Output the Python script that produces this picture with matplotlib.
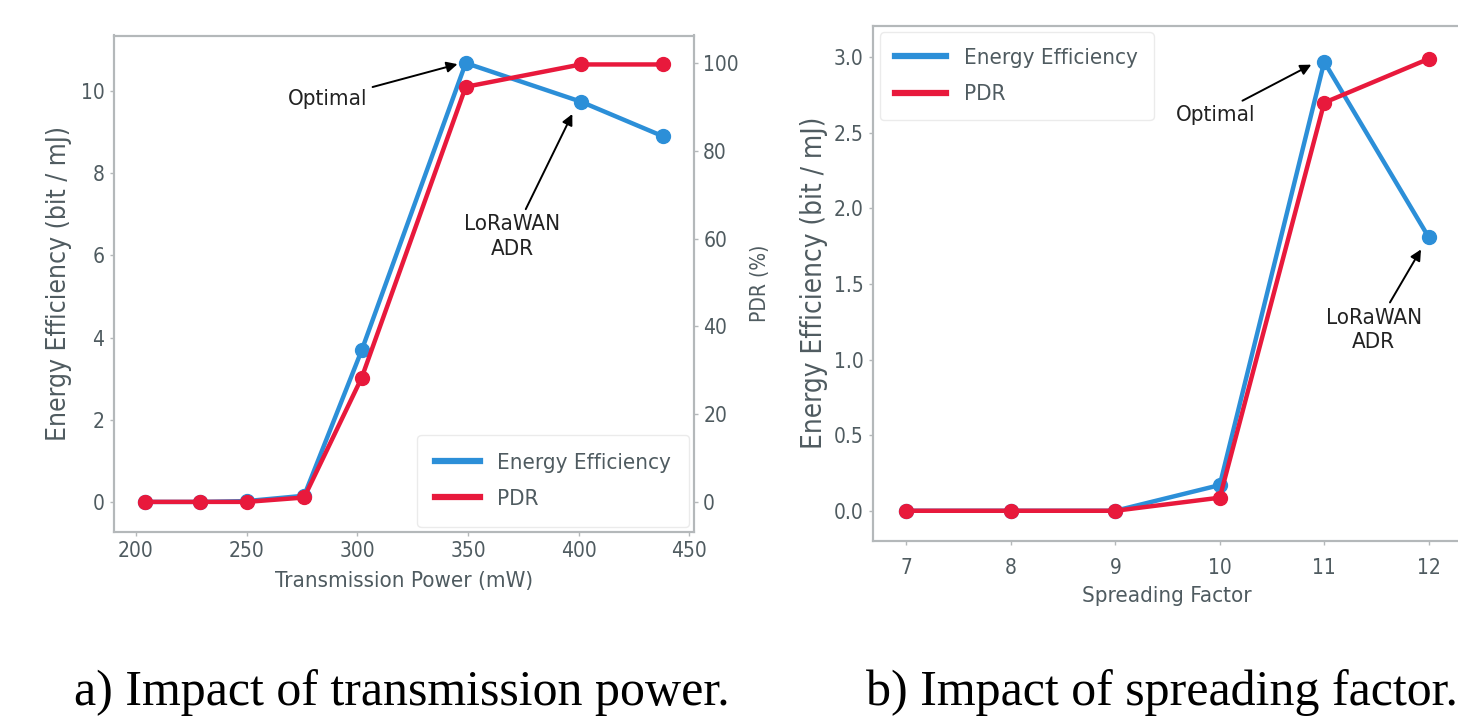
import matplotlib
matplotlib.use("Agg")
import matplotlib.pyplot as plt

# ---- data ----
tx_power = [204, 229, 250, 276, 302, 349, 401, 438]
tx_ee = [0.0, 0.0, 0.02, 0.15, 3.69, 10.68, 9.74, 8.9]
tx_pdr = [0.0, 0.0, 0.0, 1.0, 28.3, 94.6, 99.7, 99.7]

sf = [7, 8, 9, 10, 11, 12]
sf_ee = [0.0, 0.0, 0.0, 0.17, 2.97, 1.81]
sf_pdr = [0.0, 0.0, 0.0, 2.9, 90.3, 100.0]

left_yticks = [0, 2, 4, 6, 8, 10]
pdr_yticks = [0, 20, 40, 60, 80, 100]
tx_xticks = [200, 250, 300, 350, 400, 450]
sf_yticks = [0.0, 0.5, 1.0, 1.5, 2.0, 2.5, 3.0]

series_names = ["Energy Efficiency", "PDR"]
captions = ["a) Impact of transmission power.", "b) Impact of spreading factor."]

BLUE = "#2c8fd8"
RED = "#e8193c"
TXT = "#4f5b60"
SPINE = "#b4b8ba"

plt.rcParams["font.family"] = ["DejaVu Sans"]
plt.rcParams["font.stretch"] = "condensed"

W, H = 1458, 726
fig = plt.figure(figsize=(W / 100, H / 100), dpi=100)


def box(l, t, r, b):
    return [l / W, 1 - b / H, (r - l) / W, (b - t) / H]


def style(ax):
    for s in ax.spines.values():
        s.set_color(SPINE)
        s.set_linewidth(1.5)
    ax.tick_params(colors=TXT, labelsize=15, length=3, width=1, pad=4)
    ax.tick_params(axis="both", color=SPINE)


lw = 3.2
ms = 10

arrow = dict(arrowstyle="-|>", color="black", lw=1.4, mutation_scale=16,
             shrinkA=2, shrinkB=2)

# ---- panel a ----
ax1 = fig.add_axes(box(114, 35.5, 693.5, 531.5))
ax1.plot(tx_power, tx_ee, "-o", color=BLUE, lw=lw, ms=ms, label=series_names[0])
ax1.set_xlim(190.1, 451.9)
ax1.set_ylim(-0.72, 11.35)
ax1.set_xticks(tx_xticks)
ax1.set_yticks(left_yticks)
style(ax1)
ax1.set_xlabel("Transmission Power (mW)", color=TXT, fontsize=16, labelpad=7)
ax1.set_ylabel("Energy Efficiency (bit / mJ)", color=TXT, fontsize=19, labelpad=6)
ax1b = ax1.twinx()
ax1b.plot(tx_power, tx_pdr, "-o", color=RED, lw=lw, ms=ms, label=series_names[1])
ax1b.set_ylim(-6.75, 106.3)
ax1b.set_yticks(pdr_yticks)
style(ax1b)
ax1b.set_ylabel("PDR (%)", color=TXT, fontsize=15, labelpad=8)
h1, l1 = ax1.get_legend_handles_labels()
h2, l2 = ax1b.get_legend_handles_labels()
leg = ax1b.legend(h1 + h2, l1 + l2, loc="lower right", fontsize=16,
                  frameon=True, edgecolor="#e6e6e6", handlelength=2.0,
                  borderpad=0.8, borderaxespad=0.2, labelcolor=TXT,
                  labelspacing=0.75)
for ln in leg.get_lines():
    ln.set_marker("")
    ln.set_linewidth(4.5)

ax1.annotate("Optimal", xy=(346.5, 10.67), xytext=(286.5, 9.8),
             ha="center", va="center", fontsize=16, color="#222222",
             arrowprops=arrow)
ax1.annotate("LoRaWAN\nADR", xy=(397.7, 9.5), xytext=(370, 6.45),
             ha="center", va="center", fontsize=16, color="#222222",
             arrowprops=arrow, linespacing=1.3)

# ---- panel b ----
ax2 = fig.add_axes(box(873, 25.6, 1460, 541))
ax2.plot(sf, sf_ee, "-o", color=BLUE, lw=lw, ms=ms, label=series_names[0])
ax2.set_xlim(6.68, 12.3)
ax2.set_ylim(-0.2, 3.21)
ax2.set_xticks(sf)
ax2.set_yticks(sf_yticks)
style(ax2)
ax2.tick_params(axis="x", pad=9)
ax2.set_xlabel("Spreading Factor", color=TXT, fontsize=16, labelpad=6)
ax2.set_ylabel("Energy Efficiency (bit / mJ)", color=TXT, fontsize=20, labelpad=4)
ax2b = ax2.twinx()
ax2b.plot(sf, sf_pdr, "-o", color=RED, lw=lw, ms=ms, label=series_names[1])
ax2b.set_ylim(-0.2 / 2.99 * 100, 3.21 / 2.99 * 100)
style(ax2b)
ax2b.tick_params(axis="y", right=False, labelright=False)
h1, l1 = ax2.get_legend_handles_labels()
h2, l2 = ax2b.get_legend_handles_labels()
leg2 = ax2b.legend(h1 + h2, l1 + l2, loc="upper left", fontsize=16,
                   frameon=True, edgecolor="#e6e6e6", handlelength=2.3,
                   borderpad=0.7, borderaxespad=0.3, labelcolor=TXT,
                   labelspacing=0.75)
for ln in leg2.get_lines():
    ln.set_marker("")
    ln.set_linewidth(4.5)

ax2.annotate("Optimal", xy=(10.9, 2.96), xytext=(9.96, 2.62),
             ha="center", va="center", fontsize=16, color="#222222",
             arrowprops=arrow)
ax2.annotate("LoRaWAN\nADR", xy=(11.94, 1.745), xytext=(11.475, 1.196),
             ha="center", va="center", fontsize=16, color="#222222",
             arrowprops=arrow, linespacing=1.3)

# ---- captions ----
fig.text(74 / W, 1 - 705 / H, captions[0], ha="left", va="baseline",
         fontsize=36, family="Liberation Serif", stretch="normal", color="black")
fig.text(866 / W, 1 - 705 / H, captions[1], ha="left", va="baseline",
         fontsize=36, family="Liberation Serif", stretch="normal", color="black")

fig.savefig("out.png", dpi=100)
